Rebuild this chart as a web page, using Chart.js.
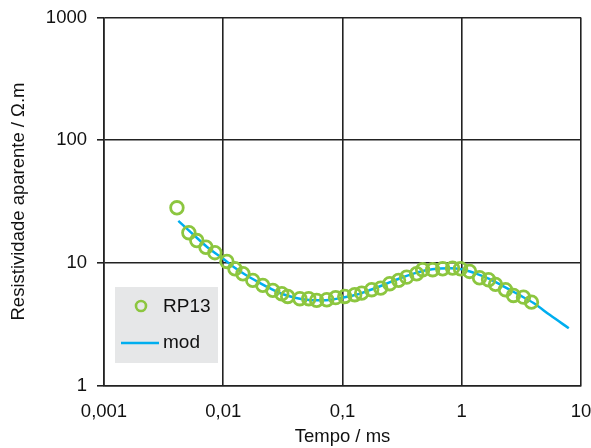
<!DOCTYPE html>
<html><head><meta charset="utf-8">
<script src="https://cdn.jsdelivr.net/npm/chart.js@4/dist/chart.umd.min.js"></script>
<style>html,body{margin:0;padding:0;background:#fff}#wrap{width:591px;height:448px;position:relative}</style>
</head><body><div id="wrap"><canvas id="c"></canvas></div>
<script>
const times = [0.00409, 0.00515, 0.00600, 0.00716, 0.00851, 0.01073, 0.01253, 0.01462, 0.01769, 0.02146,
  0.02604, 0.03095, 0.0347, 0.0439, 0.0521, 0.0607, 0.0738, 0.0876, 0.1044, 0.1266,
  0.1448, 0.1756, 0.209, 0.2487, 0.2953, 0.3449, 0.4185, 0.470, 0.570, 0.692,
  0.837, 0.976, 1.163, 1.409, 1.678, 1.918, 2.327, 2.714, 3.293, 3.843];
const rho = [28.1, 17.6, 15.2, 13.4, 12.1, 10.26, 8.95, 8.15, 7.19, 6.55,
  5.96, 5.60, 5.32, 5.10, 5.10, 4.94, 5.00, 5.20, 5.32, 5.50,
  5.66, 6.04, 6.22, 6.76, 7.19, 7.64, 8.15, 8.79, 8.79, 8.95,
  9.06, 8.95, 8.51, 7.56, 7.28, 6.67, 6.04, 5.42, 5.25, 4.78];
const modTimes = [0.0042, 0.005, 0.006, 0.0075, 0.01, 0.0125, 0.015, 0.02, 0.025, 0.03,
  0.04, 0.05, 0.065, 0.08, 0.1, 0.13, 0.17, 0.22, 0.3, 0.4,
  0.5, 0.65, 0.8, 1.0, 1.3, 1.7, 2.2, 3.0, 4.0, 5.5, 7.9];
const modRho = [22.0, 18.8, 16.0, 13.2, 10.8, 9.1, 8.1, 6.9, 6.15, 5.65,
  5.2, 5.0, 4.95, 5.0, 5.2, 5.5, 6.0, 6.6, 7.45, 8.2,
  8.7, 9.0, 9.05, 8.85, 8.2, 7.4, 6.5, 5.5, 4.7, 3.75, 2.93];
const xTickValues = [0.001, 0.01, 0.1, 1, 10];
const xTickLabels = ['0,001', '0,01', '0,1', '1', '10'];
const yTickValues = [1, 10, 100, 1000];
const yTickLabels = ['1', '10', '100', '1000'];
const seriesNames = ['RP13', 'mod'];
const xTitle = 'Tempo / ms';
const yTitle = 'Resistividade aparente / \u03A9.m';

const GREEN = '#8cc63f', BLUE = '#00aeef', GRID = '#222222';
const FONT = '"Liberation Sans", Arial, Helvetica, sans-serif';

const boxLegend = {
  id: 'boxLegend',
  afterDatasetsDraw(chart) {
    const ctx = chart.ctx;
    ctx.save();
    ctx.fillStyle = '#e6e7e8';
    ctx.fillRect(115, 287, 103, 76);
    ctx.strokeStyle = GREEN; ctx.lineWidth = 2.6;
    ctx.beginPath(); ctx.arc(141, 306, 5, 0, Math.PI * 2); ctx.stroke();
    ctx.strokeStyle = BLUE; ctx.lineWidth = 2.5;
    ctx.beginPath(); ctx.moveTo(121, 343); ctx.lineTo(159, 343); ctx.stroke();
    ctx.fillStyle = '#111';
    ctx.font = '19px ' + FONT;
    ctx.textBaseline = 'middle'; ctx.textAlign = 'left';
    ctx.fillText(chart.data.datasets[0].label, 163, 307);
    ctx.fillText(chart.data.datasets[1].label, 163, 343);
    ctx.restore();
  }
};

new Chart(document.getElementById('c'), {
  type: 'scatter',
  data: {
    datasets: [
      {
        label: seriesNames[0],
        data: times.map((t, i) => ({x: t, y: rho[i]})),
        showLine: false,
        pointStyle: 'circle',
        pointRadius: 6.3,
        pointBorderWidth: 2.8,
        borderColor: GREEN,
        backgroundColor: 'rgba(0,0,0,0)',
        pointBackgroundColor: 'rgba(0,0,0,0)',
        pointBorderColor: GREEN
      },
      {
        label: seriesNames[1],
        data: modTimes.map((t, i) => ({x: t, y: modRho[i]})),
        showLine: true,
        pointRadius: 0,
        borderColor: BLUE,
        borderWidth: 2.5,
        cubicInterpolationMode: 'monotone',
        fill: false
      }
    ]
  },
  options: {
    responsive: true,
    maintainAspectRatio: false,
    animation: false,
    layout: {padding: {left: 0, right: 10, top: 17.5, bottom: 0}},
    plugins: {legend: {display: false}, tooltip: {enabled: false}},
    scales: {
      x: {
        type: 'logarithmic',
        min: 0.001, max: 10,
        afterBuildTicks: s => { s.ticks = xTickValues.map(v => ({value: v})); },
        afterFit: s => { s.height = 62.5; s.paddingLeft = 0; s.paddingRight = 0; },
        ticks: {
          callback: (v) => { const i = xTickValues.indexOf(v); return i >= 0 ? xTickLabels[i] : ''; },
          color: '#111', font: {family: FONT, size: 18.5}, padding: 15, maxRotation: 0, autoSkip: false
        },
        grid: {color: GRID, lineWidth: 1.6, drawTicks: false},
        border: {display: true, color: GRID, width: 1.6},
        title: {display: true, text: xTitle, color: '#111', font: {family: FONT, size: 18.5}, padding: {top: 0, bottom: 0}}
      },
      y: {
        type: 'logarithmic',
        min: 1, max: 1000,
        afterBuildTicks: s => { s.ticks = yTickValues.map(v => ({value: v})); },
        afterFit: s => { s.width = 104; s.paddingTop = 0; s.paddingBottom = 0; },
        ticks: {
          callback: (v) => { const i = yTickValues.indexOf(v); return i >= 0 ? yTickLabels[i] : ''; },
          color: '#111', font: {family: FONT, size: 18.5}, padding: 10, autoSkip: false
        },
        grid: {color: GRID, lineWidth: 1.6, drawTicks: true, tickLength: 7},
        border: {display: true, color: GRID, width: 1.6},
        title: {display: true, text: yTitle, color: '#111', font: {family: FONT, size: 18.5}, padding: {top: 8, bottom: 0}}
      }
    }
  },
  plugins: [boxLegend]
});
</script>
</body></html>
